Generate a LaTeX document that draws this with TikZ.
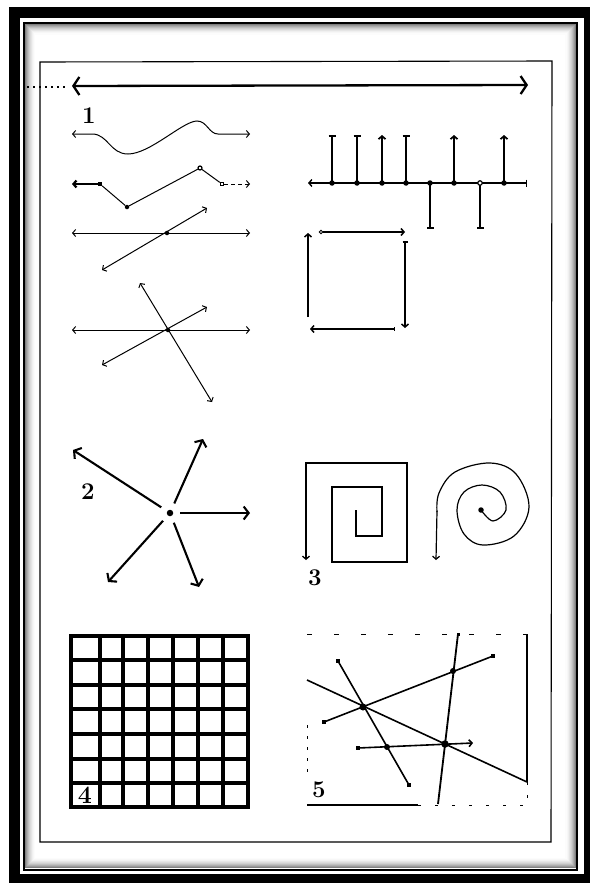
\documentclass[tikz,border=0pt]{standalone}
\usetikzlibrary{arrows.meta}
\begin{document}
\begin{tikzpicture}[x=1pt,y=-1pt,
  thinl/.style={line width=1pt},
  medl/.style={line width=1.5pt},
  sb/.style={-{Straight Barb[length=3pt,width=7pt]}},
  sbb/.style={{Straight Barb[length=3pt,width=7pt]}-{Straight Barb[length=3pt,width=7pt]}},
  tee/.style={-{Bar[width=7pt]}},
  bigarr/.style={line width=2.1pt,-{Straight Barb[length=5pt,width=13pt]}},
  dot/.style={circle,fill,inner sep=0pt,minimum size=4.5pt},
  odot/.style={circle,draw,line width=1.2pt,fill=white,inner sep=0pt,minimum size=4pt},
  sdot/.style={rectangle,fill,inner sep=0pt,minimum size=4pt},
  osq/.style={rectangle,draw,line width=1pt,fill=white,inner sep=0pt,minimum size=3.5pt},
  num/.style={font=\fontsize{24}{24}\selectfont\bfseries,inner sep=0pt},
]
\useasboundingbox (0,0) rectangle (590,883);
\fill[white] (0,0) rectangle (590,883);
% outer frame
\fill[black] (9,7) rectangle (590,883);
\fill[white] (20,18) rectangle (584,874);
\draw[line width=2pt] (23.5,23) rectangle (577,869.5);
\foreach \i/\g in {1/50,2/40,3/32,4/25,5/19,6/14,7/10,8/6,9/3,10/1} {
  \draw[black!\g, line width=1.05pt] (24.5+\i,24+\i) rectangle (576-\i,868.5-\i);
}
% inner frame
\draw[line width=1.1pt] (40,62) -- (552,61) -- (551,842) -- (40,842) -- cycle;

% top arrow
\coordinate (tl) at (72,86);
\coordinate (tr) at (528,85);
\draw[line width=2.3pt,{Straight Barb[length=6pt,width=18pt]}-{Straight Barb[length=6pt,width=18pt]}] (tl) -- (tr);
\coordinate (dl) at (27,87);
\coordinate (dr) at (66,87);
\draw[line width=1.3pt, dash pattern=on 2pt off 4pt] (dl) -- (dr);

% ---------- panel 1 left ----------
\node[num] (n1) at (89,116) {1};
% row 1
\coordinate (w0) at (72,134);
\coordinate (w1) at (250,134);
\draw[thinl,sbb] (w0) -- (92,134) .. controls (108,134) and (110,154) .. (128,154)
   .. controls (150,154) and (183,121) .. (197,121)
   .. controls (207,121) and (209,134) .. (218,134) -- (w1);
% row 2
\coordinate (a2) at (72,184);
\node[sdot] (s1) at (100,184) {};
\node[dot] (d1) at (127,207) {};
\node[odot] (o1) at (200,168) {};
\node[osq] (q1) at (222,184) {};
\coordinate (b2) at (250,184);
\draw[line width=2.2pt,{Straight Barb[length=3pt,width=7pt]}-] (a2) -- (s1);
\draw[thinl] (s1) -- (d1) -- (o1) -- (q1);
\draw[thinl,sb,dash pattern=on 4pt off 3pt] (q1) -- (b2);
% row 3
\coordinate (a3) at (72,233);
\coordinate (b3) at (250,233);
\coordinate (c3) at (102,270);
\coordinate (e3) at (207,208);
\draw[thinl,sbb] (a3) -- (b3);
\draw[thinl,sbb] (c3) -- (e3);
\node[dot] (x3) at (167,233) {};
% row 4
\coordinate (a4) at (72,330);
\coordinate (b4) at (250,330);
\coordinate (c4) at (140,283);
\coordinate (e4) at (212,402);
\coordinate (f4) at (102,365);
\coordinate (g4) at (207,307);
\draw[thinl,sbb] (a4) -- (b4);
\draw[thinl,sbb] (c4) -- (e4);
\draw[thinl,sbb] (f4) -- (g4);
\node[dot] (x4) at (168,330) {};

% ---------- panel 1 right ----------
\coordinate (h0) at (308,183);
\coordinate (h1) at (527,183);
\draw[line width=1.4pt,{Straight Barb[length=3pt,width=7pt]}-{Bar[width=7pt]}] (h0) -- (h1);
\foreach \nm/\x/\ty/\st in {v1/332/135/tee, v2/357/135/tee, v3/382/135/sb, v4/406/135/tee, v5/430/229/tee, v6/454/135/sb, v7/480/229/tee, v8/504/135/sb} {
  \coordinate (\nm t) at (\x,\ty);
  \coordinate (\nm b) at (\x,183);
  \draw[line width=1.7pt,\st] (\nm b) -- (\nm t);
}
\foreach \nm/\x in {v1/332,v2/357,v3/382,v4/406,v5/430,v6/454,v8/504} {
  \node[dot,minimum size=5.5pt] (\nm d) at (\x,183) {};
}
\node[odot,minimum size=4.5pt] (v7d) at (480,183) {};
% square cycle
\node[odot,minimum size=3.5pt,line width=1pt] (sq0) at (321,232) {};
\coordinate (sq1) at (405,232);
\coordinate (sq2) at (405,241);
\coordinate (sq3) at (405,328);
\coordinate (sq4) at (395,329);
\coordinate (sq5) at (310,329);
\coordinate (sq6) at (308,317);
\coordinate (sq7) at (308,233);
\draw[medl,sb] (sq0) -- (sq1);
\draw[medl,{Bar[width=5pt]}-{Straight Barb[length=3pt,width=7pt]}] (sq2) -- (sq3);
\draw[medl,{Bar[width=4pt]}-{Straight Barb[length=3pt,width=7pt]}] (sq4) -- (sq5);
\draw[medl,sb] (sq6) -- (sq7);

% ---------- panel 2 ----------
\node[num] (n2) at (88,492) {2};
\node[dot,minimum size=6.5pt] (c2) at (170,513) {};
\coordinate (t1) at (73,450);
\coordinate (t2) at (203,439);
\coordinate (t3) at (250,513);
\coordinate (t4) at (199,587);
\coordinate (t5) at (108,582);
\foreach \t in {t1,t2,t3,t4,t5} {
  \draw[bigarr,shorten <=7pt] (c2) -- (\t);
}

% ---------- panel 3 ----------
\node[num] (n3) at (315,578) {3};
\coordinate (p0) at (356,510);
\coordinate (p1) at (356,536);
\coordinate (p2) at (382,536);
\coordinate (p3) at (382,487);
\coordinate (p4) at (332,487);
\coordinate (p5) at (332,562);
\coordinate (p6) at (407,562);
\coordinate (p7) at (407,463);
\coordinate (p8) at (306,463);
\coordinate (p9) at (306,560);
\draw[line width=1.3pt,sb] (p0) -- (p1) -- (p2) -- (p3) -- (p4) -- (p5) -- (p6) -- (p7) -- (p8) -- (p9);
% round spiral
\node[dot,minimum size=5.5pt] (sc) at (481,510) {};
\draw[line width=1.2pt] plot[smooth,tension=0.6] coordinates {(481,510) (493,521) (506,510) (500,492) (482,485) (464,492) (457,510) (464,534) (483,545) (514,536) (529,507) (516,474) (490,463) (455,472) (439,493) (437,512)};
\coordinate (sp1) at (437,511);
\coordinate (sp2) at (436,560);
\draw[line width=1.2pt,sb] (sp1) -- (sp2);

% ---------- panel 4 ----------
\foreach \x in {71,100,123,148,173,198,223,248} {
  \draw[line width=3.1pt,line cap=rect] (\x,636) -- (\x,807);
}
\foreach \y in {636,660,685,709,734,759,783,807} {
  \draw[line width=3.1pt,line cap=rect] (71,\y) -- (248,\y);
}
\node[font=\fontsize{25}{25}\selectfont\bfseries,inner sep=0pt] (n4) at (85,795) {4};

% ---------- panel 5 ----------
\node[num] (n5) at (319,790) {5};
\draw[line width=0.9pt,dash pattern=on 5pt off 22pt] (307,634) -- (527,634);
\draw[line width=1.3pt] (527,634) -- (527,782);
\draw[line width=0.9pt,dash pattern=on 3pt off 10pt] (527,782) -- (527,805);
\draw[line width=1.3pt] (307,805) -- (418,805);
\draw[line width=0.9pt,dash pattern=on 3pt off 14pt] (418,805) -- (527,805);
\draw[line width=0.9pt,dash pattern=on 3pt off 8pt] (307,725) -- (307,775);
\coordinate (la0) at (307,680);
\coordinate (la1) at (527,782);
\node[sdot,minimum size=3.5pt] (lb0) at (324,722) {};
\node[sdot,minimum size=3.5pt] (lb1) at (493,656) {};
\node[sdot,minimum size=3.5pt] (lc0) at (338,661) {};
\node[sdot,minimum size=3.5pt] (lc1) at (409,785) {};
\node[sdot,minimum size=3.5pt] (ld0) at (358,748) {};
\coordinate (ld1) at (473,743);
\node[sdot,minimum size=3pt] (le0) at (458,634) {};
\coordinate (le1) at (438,804);
\draw[line width=1.6pt] (la0) -- (la1);
\draw[line width=1.6pt] (lb0.center) -- (lb1.center);
\draw[line width=1.6pt] (lc0.center) -- (lc1.center);
\draw[line width=1.6pt,sb] (ld0.center) -- (ld1);
\draw[line width=1.8pt] (le0.center) -- (le1);
\node[dot,minimum size=7pt] (P1) at (363,707) {};
\node[dot,minimum size=7.5pt] (P2) at (445,744) {};
\node[dot,minimum size=6pt] (P3) at (453,671) {};
\node[dot,minimum size=6pt] (P4) at (387,747) {};
\end{tikzpicture}
\end{document}
